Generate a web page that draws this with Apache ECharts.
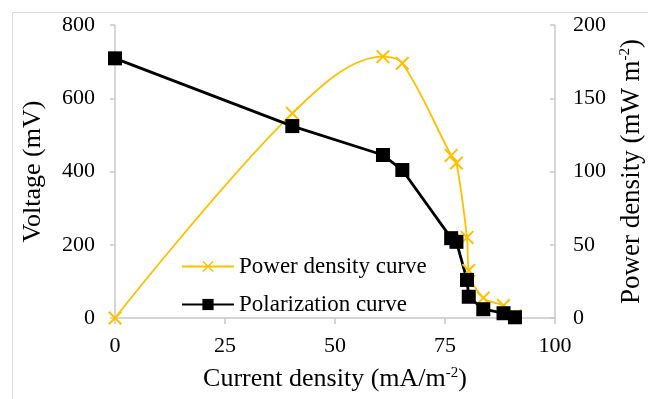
<!DOCTYPE html>
<html>
<head>
<meta charset="utf-8">
<style>html,body{margin:0;padding:0;width:648px;height:399px;background:#fff;overflow:hidden;}#chart{width:648px;height:399px;}</style>
<script src="https://cdn.jsdelivr.net/npm/echarts@6/dist/echarts.min.js"></script>
</head>
<body>
<div id="chart"></div>
<script>
// current density (mA/m-2), shared by both curves
var current = [0, 40.3, 60.9, 65.3, 76.4, 77.6, 80.0, 80.4, 83.7, 88.3, 90.9];
// voltage (mV)
var voltage = [709, 524, 445, 404, 218, 208, 104, 58, 24, 13, 2];
// power density (mW m-2)
var power = [0, 139.7, 178.4, 173.9, 111, 105.8, 55, 32.5, 13.7, 8.5, 1.5];

var xTicks = [0, 25, 50, 75, 100];
var leftTicks = [0, 200, 400, 600, 800];
var rightTicks = [0, 50, 100, 150, 200];

var font = "'Liberation Serif', 'Times New Roman', serif";
var axisGray = "#c8c8c8";
var gold = "#FFC000";
var crossPath = "path://M0,1L1,0L5,4L9,0L10,1L6,5L10,9L9,10L5,6L1,10L0,9L4,5Z";

function pairs(xs, ys) {
  return xs.map(function (x, i) { return [x, ys[i]]; });
}

var chart = echarts.init(document.getElementById("chart"), null, { renderer: "canvas" });

var supStyle = { fontFamily: font, fontSize: 15, verticalAlign: "top", color: "#000", lineHeight: 26 };

chart.setOption({
  animation: false,
  backgroundColor: "#fff",
  textStyle: { fontFamily: font, color: "#000" },
  graphic: [{
    type: "rect",
    left: 10, top: 10,
    shape: { width: 700, height: 500 },
    style: { fill: "none", stroke: "#d9d9d9", lineWidth: 1 },
    silent: true
  }],
  grid: { left: 115, right: 93, top: 25, bottom: 81, outerBoundsMode: "none", containLabel: false },
  legend: {
    orient: "vertical",
    left: 176,
    top: 250,
    itemWidth: 52,
    itemHeight: 14,
    itemGap: 15,
    textStyle: { fontFamily: font, fontSize: 23, color: "#000" },
    data: ["Power density curve", "Polarization curve"]
  },
  xAxis: {
    type: "value",
    min: xTicks[0], max: xTicks[xTicks.length - 1], interval: 25,
    name: "Current density (mA/m{sup|-2})",
    nameLocation: "middle",
    nameGap: 48,
    nameTextStyle: { fontFamily: font, fontSize: 26, color: "#000", rich: { sup: supStyle } },
    axisLine: { lineStyle: { color: axisGray, width: 1.5 } },
    axisTick: { show: true, length: 6, lineStyle: { color: axisGray, width: 1.5 } },
    axisLabel: { fontFamily: font, fontSize: 22, color: "#000", margin: 17 },
    splitLine: { show: false }
  },
  yAxis: [{
    type: "value",
    position: "left",
    min: leftTicks[0], max: leftTicks[leftTicks.length - 1], interval: 200,
    name: "Voltage (mV)",
    nameLocation: "middle",
    nameRotate: 90,
    nameGap: 69,
    nameTextStyle: { fontFamily: font, fontSize: 26, color: "#000" },
    axisLine: { show: true, lineStyle: { color: axisGray, width: 1.5 } },
    axisTick: { show: true, length: 5, lineStyle: { color: axisGray, width: 1.5 } },
    axisLabel: { fontFamily: font, fontSize: 22, color: "#000", margin: 20 },
    splitLine: { show: false }
  }, {
    type: "value",
    position: "right",
    min: rightTicks[0], max: rightTicks[rightTicks.length - 1], interval: 50,
    name: "Power density (mW m{sup|-2})",
    nameLocation: "middle",
    nameRotate: 90,
    nameGap: 63,
    nameTextStyle: { fontFamily: font, fontSize: 27, color: "#000", rich: { sup: supStyle } },
    axisLine: { show: true, lineStyle: { color: axisGray, width: 1.5 } },
    axisTick: { show: true, inside: true, length: 5, lineStyle: { color: axisGray, width: 1.5 } },
    axisLabel: { fontFamily: font, fontSize: 22, color: "#000", margin: 18 },
    splitLine: { show: false }
  }],
  series: [{
    name: "Power density curve",
    type: "line",
    yAxisIndex: 1,
    data: pairs(current, power),
    smooth: 0.35,
    symbol: crossPath,
    symbolSize: 14,
    lineStyle: { color: gold, width: 1.8 },
    itemStyle: { color: gold }
  }, {
    name: "Polarization curve",
    type: "line",
    yAxisIndex: 0,
    data: pairs(current, voltage),
    symbol: "rect",
    symbolSize: 14,
    lineStyle: { color: "#000", width: 2.8 },
    itemStyle: { color: "#000" }
  }]
});
</script>
</body>
</html>
